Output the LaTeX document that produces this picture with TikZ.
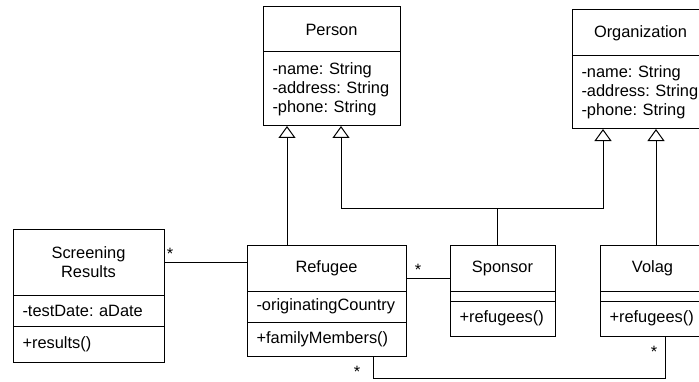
\documentclass[tikz,border=0pt]{standalone}
\usepackage{fontspec}
\setmainfont{Liberation Sans}
\usetikzlibrary{arrows.meta,positioning}
\frenchspacing

\tikzset{
  classname/.style 2 args={draw=drawColor, line width=1pt, outer sep=0pt, inner sep=0pt,
    minimum width=#1, minimum height=#2, align=center},
  classpart/.style 2 args={draw=drawColor, line width=1pt, outer sep=0pt, inner xsep=9.5pt,
    inner ysep=0pt, text width=#1, minimum height=#2, align=left},
  inherit/.style={draw=drawColor, line width=1pt, -{Triangle[open,length=12pt,width=17pt]}},
  assoc/.style={draw=drawColor, line width=1pt},
  mult/.style={text=drawColor, anchor=base, inner sep=0pt, outer sep=0pt},
}

\begin{document}
\begin{tikzpicture}[x=1pt,y=1pt,font=\fontsize{16.4}{19}\selectfont]
\definecolor{drawColor}{RGB}{0,0,0}
\path[use as bounding box] (0,0) rectangle (699,381);
\clip (0,0) rectangle (699,381);

% superclasses
\node[classname={137pt}{45pt}, anchor=north west] (person) at (263,374) {Person};
\node[classpart={118pt}{74pt}, below=0pt of person] (person-att) {-name: String\\-address:~String\\-phone: String};

\node[classname={137pt}{46pt}, anchor=north west] (org) at (572,371) {Organization};
\node[classpart={118pt}{73pt}, below=0pt of org] (org-att) {-name: String\\-address:~String\\-phone: String};

% subclasses
\node[classname={151pt}{66pt}, anchor=north west] (screening) at (13,152) {Screening\\Results};
\node[classpart={132pt}{31pt}, below=0pt of screening] (screening-att) {-testDate: aDate};
\node[classpart={132pt}{36pt}, below=0pt of screening-att] (screening-op) {+results()};

\node[classname={159pt}{46pt}, anchor=north west] (refugee) at (247,136) {Refugee};
\node[classpart={140pt}{31pt}, below=0pt of refugee] (refugee-att) {-originatingCountry};
\node[classpart={140pt}{34pt}, below=0pt of refugee-att] (refugee-op) {+familyMembers()};

\node[classname={105pt}{46pt}, anchor=north west] (sponsor) at (450,136) {Sponsor};
\node[classpart={86pt}{10pt}, below=0pt of sponsor] (sponsor-att) {};
\node[classpart={86pt}{35pt}, below=0pt of sponsor-att] (sponsor-op) {+refugees()};

\node[classname={105pt}{46pt}, anchor=north west] (volag) at (600,136) {Volag};
\node[classpart={86pt}{10pt}, below=0pt of volag] (volag-att) {};
\node[classpart={86pt}{35pt}, below=0pt of volag-att] (volag-op) {+refugees()};

% generalizations
\coordinate (refugee-up) at ([xshift=40pt]refugee.north west);
\draw[inherit] (refugee-up) -- (refugee-up |- person-att.south);

\coordinate (sponsor-up) at ([xshift=47pt]sponsor.north west);
\coordinate (branch) at ([yshift=37pt]sponsor-up);
\draw[assoc] (sponsor-up) -- (branch);
\draw[inherit] (branch) -| ([xshift=78pt]person-att.south west);
\draw[inherit] (branch) -| ([xshift=31pt]org-att.south west);

\coordinate (volag-up) at ([xshift=56pt]volag.north west);
\draw[inherit] (volag-up) -- (volag-up |- org-att.south);

% associations
\coordinate (screening-link) at ([yshift=-33pt]screening.north east);
\draw[assoc] (screening-link) -- (screening-link -| refugee.west);
\node[mult] (screening-mult) at ([xshift=6pt,yshift=2.6pt]screening-link) {*};

\coordinate (refugee-link) at ([yshift=-33pt]refugee.north east);
\draw[assoc] (refugee-link) -- (refugee-link -| sponsor.west);
\node[mult] (refugee-mult) at ([xshift=12pt,yshift=2.6pt]refugee-link) {*};

\coordinate (refugee-down) at ([xshift=126pt]refugee-op.south west);
\coordinate (volag-down) at ([xshift=65pt]volag-op.south west);
\draw[assoc] (refugee-down) |- ([yshift=-42pt]volag-down) -- (volag-down);
\node[mult] (refugee-down-mult) at ([xshift=-16pt,yshift=-21.5pt]refugee-down) {*};
\node[mult] (volag-down-mult) at ([xshift=-11pt,yshift=-21.4pt]volag-down) {*};
\end{tikzpicture}
\end{document}
